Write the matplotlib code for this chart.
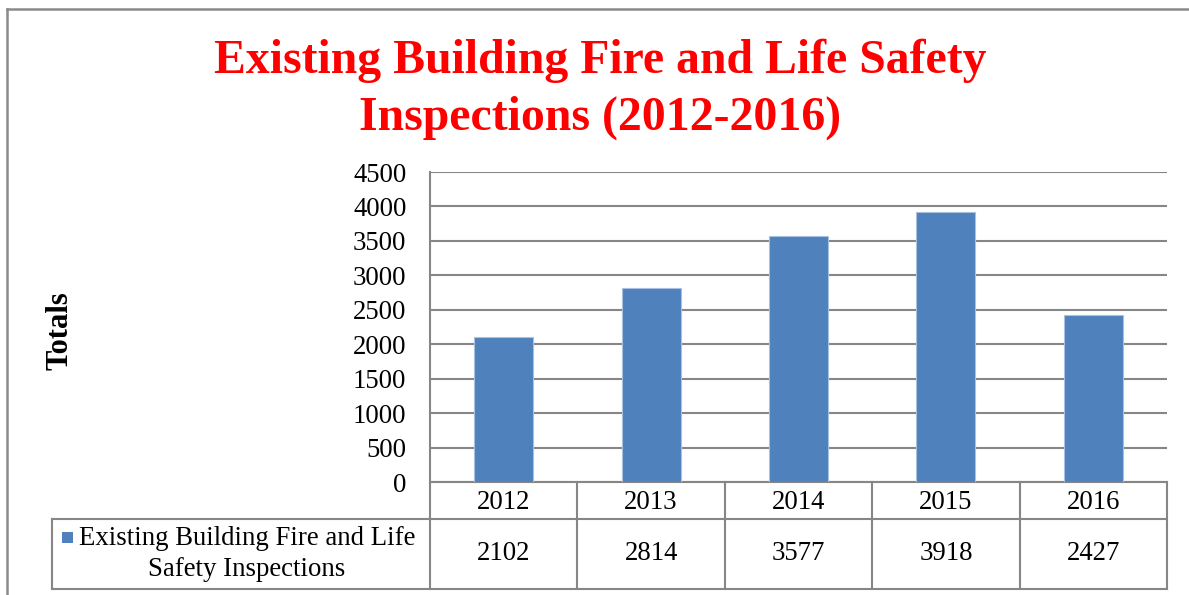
import matplotlib
matplotlib.use("Agg")
import matplotlib.pyplot as plt
from matplotlib.lines import Line2D
from matplotlib.patches import Rectangle
from matplotlib.transforms import blended_transform_factory

years = ["2012", "2013", "2014", "2015", "2016"]
values = [2102, 2814, 3577, 3918, 2427]
series_name = "Existing Building Fire and Life\nSafety Inspections"
title_lines = ["Existing Building Fire and Life Safety", "Inspections (2012-2016)"]
yticks = list(range(0, 5000, 500))

W, H = 1189, 595
plt.rcParams['font.family'] = ['Liberation Serif', 'DejaVu Serif']
fig = plt.figure(figsize=(W / 100, H / 100), dpi=100)
fig.patch.set_facecolor('white')

GRID = '#868686'
BAR = '#4F81BD'
FS = 19.3

ax = fig.add_axes([430 / W, (H - 482) / H, 737 / W, 310 / H])
x = list(range(len(years)))
ax.bar(x, values, width=0.4, color=BAR, edgecolor='#a9c1e0', linewidth=0.8, zorder=3)
ax.set_xlim(-0.5, len(years) - 0.5)
ax.set_ylim(0, 4500)
ax.set_yticks(yticks)
ax.set_yticklabels([str(v) for v in yticks], fontsize=FS)
ax.tick_params(axis='y', length=0, pad=17)
ax.set_xticks([])
ax.grid(axis='y', color=GRID, linewidth=1.5, zorder=0)
for s in ['top', 'right']:
    ax.spines[s].set_visible(False)
ax.spines['left'].set_visible(False)
ax.spines['bottom'].set_color(GRID)
ax.spines['bottom'].set_linewidth(1.5)

# data table drawn below the axes
r1 = -37 / 310
r2 = -107 / 310
lx = (52 - 430) / 737
lw = 1.5
ta = ax.transAxes
bt = blended_transform_factory(ax.transData, ax.transAxes)
for yy in (r1, r2):
    ax.add_line(Line2D([lx, 1], [yy, yy], transform=ta, color=GRID, lw=lw, clip_on=False))
ax.add_line(Line2D([lx, lx], [r1, r2], transform=ta, color=GRID, lw=lw, clip_on=False))
ax.add_line(Line2D([0, 0], [1, r2], transform=ta, color=GRID, lw=lw, clip_on=False))
for i in range(len(years)):
    ax.add_line(Line2D([i + 0.5, i + 0.5], [0, r2], transform=bt, color=GRID, lw=lw, clip_on=False))
for i, (yr, v) in enumerate(zip(years, values)):
    ax.text(i, r1 / 2 - 0.008, yr, transform=bt, ha='center', va='center', fontsize=FS)
    ax.text(i, (r1 + r2) / 2, str(v), transform=bt, ha='center', va='center', fontsize=FS)

# legend key + series name
ax.add_patch(Rectangle(((62 - 430) / 737, -(543 - 482) / 310), 11 / 737, 11 / 310,
                       transform=ta, facecolor=BAR, edgecolor='none', clip_on=False))
ax.text((247 - 430) / 737, (r1 + r2) / 2, series_name, transform=ta, ha='center', va='center',
        multialignment='center', fontsize=FS, linespacing=1.3)

# y axis label
fig.text(60 / W, 1 - 331 / H, "Totals", rotation=90, ha='center', va='center',
         fontsize=22, fontweight='bold')

# title
fig.text(600 / W, 1 - 73 / H, title_lines[0], ha='center', va='baseline',
         fontsize=34.4, fontweight='bold', color='red')
fig.text(600 / W, 1 - 130 / H, title_lines[1], ha='center', va='baseline',
         fontsize=34.4, fontweight='bold', color='red')

# chart-area border (left and top visible)
fig.add_artist(Line2D([7 / W, 7 / W], [0, 1 - 9 / H], transform=fig.transFigure, color='#8a8a8a', lw=1.8))
fig.add_artist(Line2D([7 / W, 1], [1 - 9 / H, 1 - 9 / H], transform=fig.transFigure, color='#8a8a8a', lw=1.8))

fig.savefig("out.png", dpi=100)
